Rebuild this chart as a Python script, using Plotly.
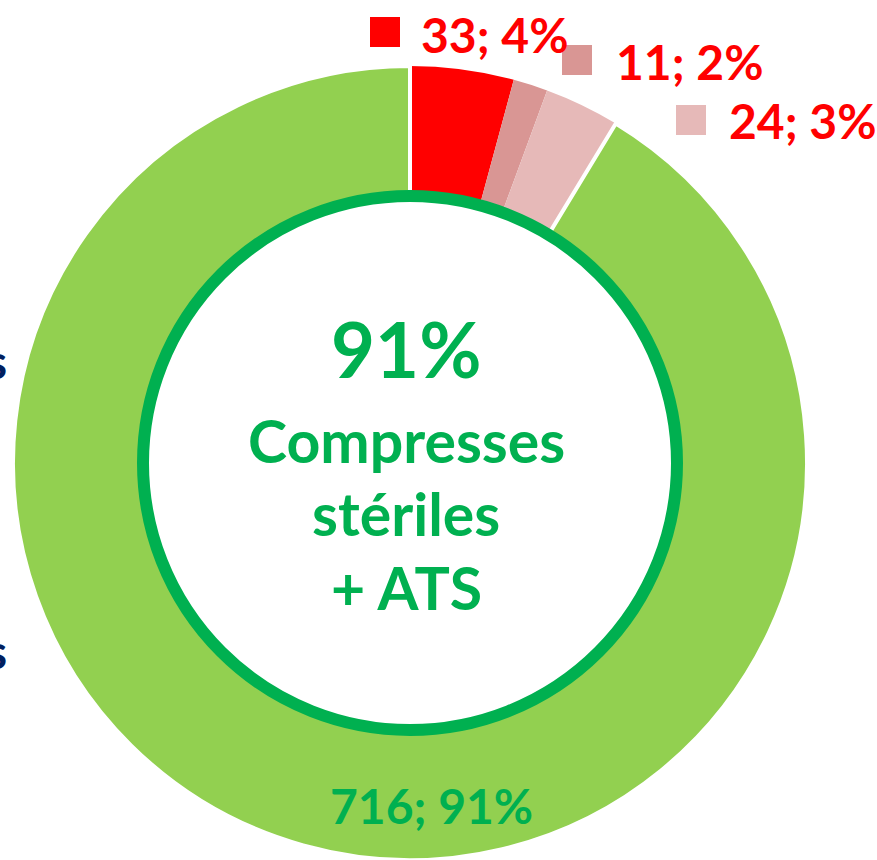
import plotly.graph_objects as go

W, H = 877, 860

labels = ["Rouge", "Rose foncé", "Rose clair", "Compresses stériles + ATS"]
values = [33, 11, 24, 716]
pct_text = ["33; 4%", "11; 2%", "24; 3%", "716; 91%"]
colors = ["#FF0000", "#D99694", "#E6B9B8", "#92D050"]
center_text = ["91%", "Compresses", "stériles", "+ ATS"]


def px(x):
    return x / W


def py(y):
    return 1 - y / H


# pie geometry (pixels): bottom of domain sits at the bottom edge of the figure
R = 397
cx, cy = 410, H - R
fig = go.Figure()
fig.add_trace(go.Pie(
    labels=labels, values=values,
    marker=dict(colors=colors,
                line=dict(color=["#FF0000", "#D99694", "#E6B9B8", "#FFFFFF"],
                          width=[0, 0, 0, 4])),
    sort=False, direction="clockwise", rotation=0,
    hole=0.675, textinfo="none", hoverinfo="label+value+percent",
    domain=dict(x=[px(cx - R), px(cx + R)], y=[0, py(cy - R)]),
    showlegend=False,
))

green = "#00B050"
font = "Lato"
# inner green ring
rr = 267
fig.add_shape(type="circle", xref="paper", yref="paper",
              x0=px(cx - rr), x1=px(cx + rr), y0=py(cy + rr), y1=py(cy - rr),
              line=dict(color=green, width=12), fillcolor="rgba(0,0,0,0)")

center_pos = [(348, 76), (440, 59), (513, 59), (587, 59)]
for t, (y, s) in zip(center_text, center_pos):
    fig.add_annotation(text=f"<b>{t}</b>", x=px(406), y=py(y), xref="paper", yref="paper",
                       showarrow=False, font=dict(family=font, size=s, color=green),
                       xanchor="center", yanchor="middle")

# slice labels with square markers
lab_pos = [(419, 34, 370, 32), (614, 61, 562, 60), (727, 121, 676, 120)]
for (tx, ty, sx, sy), t, c in zip(lab_pos, pct_text[:3], colors[:3]):
    fig.add_annotation(text=f"<b>{t}</b>", x=px(tx), y=py(ty), xref="paper", yref="paper",
                       showarrow=False, font=dict(family=font, size=48, color="#FF0000"),
                       xanchor="left", yanchor="middle")
    fig.add_shape(type="rect", xref="paper", yref="paper",
                  x0=px(sx), x1=px(sx + 30), y0=py(sy + 15), y1=py(sy - 15),
                  line=dict(width=0), fillcolor=c)

fig.add_annotation(text=f"<b>{pct_text[3]}</b>", x=px(431), y=py(805), xref="paper", yref="paper",
                   showarrow=False, font=dict(family=font, size=48, color=green),
                   xanchor="center", yanchor="middle")

# cut-off legend text at the left edge
for y in (360, 650):
    fig.add_annotation(text="<b>s</b>", x=px(9), y=py(y), xref="paper", yref="paper",
                       showarrow=False, font=dict(family=font, size=48, color="#002060"),
                       xanchor="right", yanchor="middle")

fig.update_layout(width=W, height=H, margin=dict(l=0, r=0, t=0, b=0),
                  paper_bgcolor="white", plot_bgcolor="white")
fig.write_html("out.html", config={"displayModeBar": False},
               post_script="document.body.style.margin='0';document.body.style.overflow='hidden';")
